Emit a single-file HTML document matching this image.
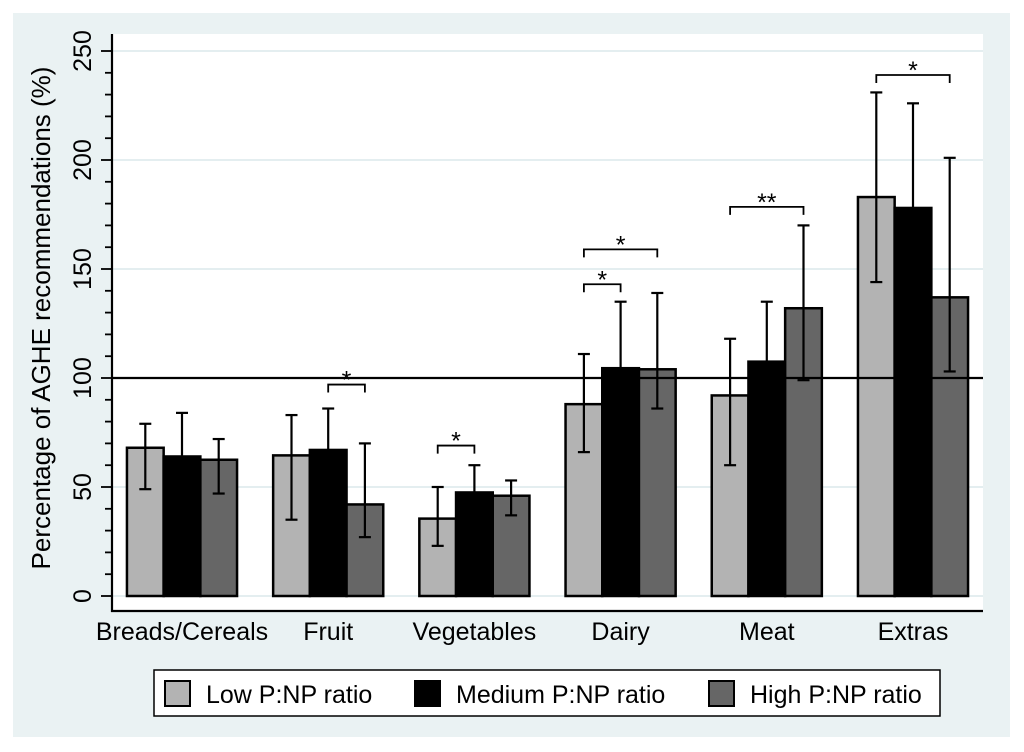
<!DOCTYPE html>
<html><head><meta charset="utf-8"><style>
body{margin:0;background:#fff;}
svg{display:block;font-family:"Liberation Sans",sans-serif;}
</style></head><body>
<svg id="c" width="1024" height="752" viewBox="0 0 1024 752">
<rect x="13" y="13" width="997" height="724" fill="#eaf2f3"/>
<rect x="112" y="34" width="871" height="577" fill="#fff"/>
<g id="grid"></g>
<g id="bars"></g>
<g id="axes"></g>
<g id="sig"></g>
<text transform="translate(50,318) rotate(-90)" text-anchor="middle" font-size="26" fill="#000">Percentage of AGHE recommendations (%)</text>
<g>
<rect x="154" y="670" width="786" height="46" fill="#fff" stroke="#000" stroke-width="1.5"/>
<rect x="165" y="681" width="25" height="25" fill="#b3b3b3" stroke="#000" stroke-width="2"/>
<text x="206" y="703" font-size="25">Low P:NP ratio</text>
<rect x="415" y="681" width="25" height="25" fill="#000" stroke="#000" stroke-width="2"/>
<text x="456" y="703" font-size="25">Medium P:NP ratio</text>
<rect x="709" y="681" width="25" height="25" fill="#666" stroke="#000" stroke-width="2"/>
<text x="750" y="703" font-size="25">High P:NP ratio</text>
</g>
</svg>
<script>
const categories=["Breads/Cereals","Fruit","Vegetables","Dairy","Meat","Extras"];
const lowVals=[68,64.5,35.5,88,92,183];
const lowLo=[49,35,23,66,60,144];
const lowHi=[79,83,50,111,118,231];
const medVals=[64,67,47.5,104.5,107.5,178];
const medLo=[50,50,40,90,90,150];
const medHi=[84,86,60,135,135,226];
const highVals=[62.5,42,46,104,132,137];
const highLo=[47,27,37,86,99,103];
const highHi=[72,70,53,139,170,201];
const yTicks=[0,50,100,150,200,250];
const sigGroups=[1,2,3,3,4,5];
const sigFrom=[1,0,0,0,0,0];
const sigTo=[2,1,1,2,2,2];
const sigY=[97,69,143,159,178.5,239];
const sigLabels=["*","*","*","*","**","*"];
const refLine=100;

const NS="http://www.w3.org/2000/svg";
const y=v=>596-v*2.18;
const gx=i=>182+i*146.2;
const bw=36.7;
const bx=(i,s)=>gx(i)-bw*1.5+s*bw;
function mk(t,a,p){const e=document.createElementNS(NS,t);for(const k in a)e.setAttribute(k,a[k]);p.appendChild(e);return e;}
const grid=document.getElementById('grid'),bars=document.getElementById('bars'),axes=document.getElementById('axes'),sig=document.getElementById('sig');
yTicks.forEach(v=>{const l=mk('line',{x1:113,x2:983,y1:y(v),y2:y(v),stroke:'#e4eef0','stroke-width':2},grid);

});
const series=[[lowVals,lowLo,lowHi,'#b3b3b3'],[medVals,medLo,medHi,'#000'],[highVals,highLo,highHi,'#666']];
categories.forEach((c,i)=>{
 series.forEach((s,k)=>{
  const r=mk('rect',{x:bx(i,k),y:y(s[0][i]),width:bw,height:y(0)-y(s[0][i]),fill:s[3],stroke:'#000','stroke-width':2.5},bars);
  
  
 });
 series.forEach((s,k)=>{
  const cx=bx(i,k)+bw/2;
  const g=mk('g',{stroke:'#000','stroke-width':2.2},bars);
  
  
  mk('line',{x1:cx,x2:cx,y1:y(s[1][i]),y2:y(s[2][i])},g);
  mk('line',{x1:cx-6,x2:cx+6,y1:y(s[1][i]),y2:y(s[1][i])},g);
  mk('line',{x1:cx-6,x2:cx+6,y1:y(s[2][i]),y2:y(s[2][i])},g);
 });
 const t=mk('text',{x:gx(i),y:640,'text-anchor':'middle','font-size':25},axes);t.textContent=c;
 
 
});
const rl=mk('line',{x1:112,x2:983,y1:y(refLine),y2:y(refLine),stroke:'#000','stroke-width':2.2},axes);


const ya=mk('line',{x1:112,x2:112,y1:34,y2:612,stroke:'#000','stroke-width':2.2},axes);


const xa=mk('line',{x1:111,x2:983,y1:611,y2:611,stroke:'#000','stroke-width':2.2},axes);


for(let v=0;v<=250;v+=10){mk('line',{x1:v%50?105:101,x2:112,y1:y(v),y2:y(v),stroke:'#000','stroke-width':1.8},axes);}
yTicks.forEach(v=>{const t=mk('text',{transform:`translate(91,${y(v)}) rotate(-90)`,'text-anchor':'middle','font-size':25},axes);t.textContent=v;
 
 });
sigGroups.forEach((g,j)=>{
 const x1=bx(g,sigFrom[j])+bw/2,x2=bx(g,sigTo[j])+bw/2,yy=y(sigY[j]);
 const p=mk('path',{d:`M${x1},${yy+8}V${yy}H${x2}V${yy+8}`,fill:'none',stroke:'#000','stroke-width':1.8},sig);
 
 
 const t=mk('text',{x:(x1+x2)/2,y:yy+4,'text-anchor':'middle','font-size':25},sig);t.textContent=sigLabels[j];
 
 
});
</script>
</body></html>
